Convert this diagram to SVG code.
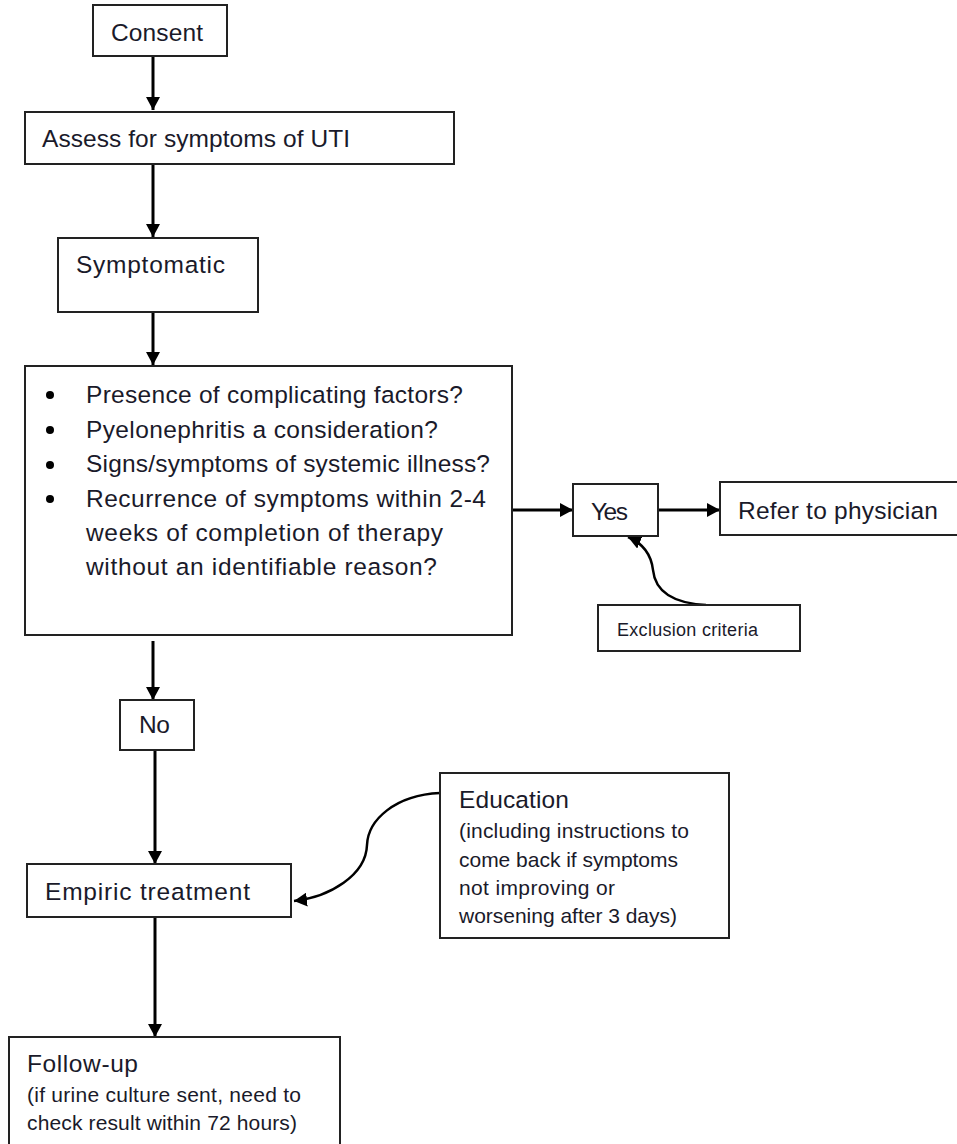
<svg xmlns="http://www.w3.org/2000/svg" width="957" height="1144" viewBox="0 0 957 1144">
<style>
.box{fill:#fff;stroke:#222;stroke-width:2}
.t{font-family:"Liberation Sans",Arial,sans-serif;font-size:24.5px;fill:#1a1a2a}
.s{font-family:"Liberation Sans",Arial,sans-serif;font-size:21px;fill:#1a1a2a}
.x{font-family:"Liberation Sans",Arial,sans-serif;font-size:18px;fill:#1a1a2a}
.c{fill:none;stroke:#000;stroke-width:3;marker-end:url(#ah)}
.cv{fill:none;stroke:#000;stroke-width:2.5;marker-end:url(#ah)}
</style>
<defs>
<marker id="ah" markerUnits="userSpaceOnUse" markerWidth="14" markerHeight="14" refX="13" refY="7" orient="auto">
<path d="M0,0 L13,7 L0,14 z" fill="#000"/>
</marker>
</defs>
<rect width="957" height="1144" fill="#fff"/>
<g id="connectors">
<path class="c" d="M153,56 V110"/>
<path class="c" d="M153,164 V237"/>
<path class="c" d="M153,312 V365"/>
<path class="c" d="M513,510 H573"/>
<path class="c" d="M658,510 H720"/>
<path class="cv" d="M706,605 C670,603 655,590 653,570 C651,553 642,543 628,537"/>
<path class="c" d="M153,641 V700"/>
<path class="c" d="M155,750 V864"/>
<path class="cv" d="M440,793 C395,795 368,820 367,845 C366,875 330,897 294,901"/>
<path class="c" d="M155,917 V1037"/>
</g>
<g id="consent">
<rect class="box" x="93" y="5" width="134" height="51"/>
<text class="t" x="111" y="41" textLength="92">Consent</text>
</g>
<g id="assess">
<rect class="box" x="25" y="112" width="429" height="52"/>
<text class="t" x="42" y="147" textLength="308">Assess for symptoms of UTI</text>
</g>
<g id="symptomatic">
<rect class="box" x="58" y="238" width="200" height="74"/>
<text class="t" x="76" y="273" textLength="149">Symptomatic</text>
</g>
<g id="criteria">
<rect class="box" x="25" y="366" width="487" height="269"/>
<circle cx="50" cy="395" r="4" fill="#000"/>
<circle cx="50" cy="430" r="4" fill="#000"/>
<circle cx="50" cy="465" r="4" fill="#000"/>
<circle cx="50" cy="499" r="4" fill="#000"/>
<text class="t" x="86" y="403" textLength="377">Presence of complicating factors?</text>
<text class="t" x="86" y="438" textLength="352">Pyelonephritis a consideration?</text>
<text class="t" x="86" y="472" textLength="404">Signs/symptoms of systemic illness?</text>
<text class="t" x="86" y="507" textLength="400">Recurrence of symptoms within 2-4</text>
<text class="t" x="86" y="541" textLength="357">weeks of completion of therapy</text>
<text class="t" x="86" y="575" textLength="351">without an identifiable reason?</text>
</g>
<g id="yes">
<rect class="box" x="573" y="484" width="85" height="52"/>
<text class="t" x="591" y="520" textLength="37">Yes</text>
</g>
<g id="refer">
<rect class="box" x="720" y="482" width="240" height="53"/>
<text class="t" x="738" y="519" textLength="200">Refer to physician</text>
</g>
<g id="exclusion">
<rect class="box" x="598" y="605" width="202" height="46"/>
<text class="x" x="617" y="636" textLength="141">Exclusion criteria</text>
</g>
<g id="no">
<rect class="box" x="120" y="700" width="74" height="50"/>
<text class="t" x="139" y="733" textLength="31">No</text>
</g>
<g id="empiric">
<rect class="box" x="27" y="864" width="264" height="53"/>
<text class="t" x="45" y="900" textLength="205">Empiric treatment</text>
</g>
<g id="education">
<rect class="box" x="440" y="773" width="289" height="165"/>
<text class="t" x="459" y="808" textLength="110">Education</text>
<text class="s" x="459" y="838" textLength="230">(including instructions to</text>
<text class="s" x="459" y="867" textLength="219">come back if symptoms</text>
<text class="s" x="459" y="895" textLength="156">not improving or</text>
<text class="s" x="459" y="923" textLength="218">worsening after 3 days)</text>
</g>
<g id="followup">
<rect class="box" x="9" y="1037" width="331" height="120"/>
<text class="t" x="27" y="1072" textLength="111">Follow-up</text>
<text class="s" x="27" y="1102" textLength="274">(if urine culture sent, need to</text>
<text class="s" x="27" y="1130" textLength="270">check result within 72 hours)</text>
</g>
</svg>
